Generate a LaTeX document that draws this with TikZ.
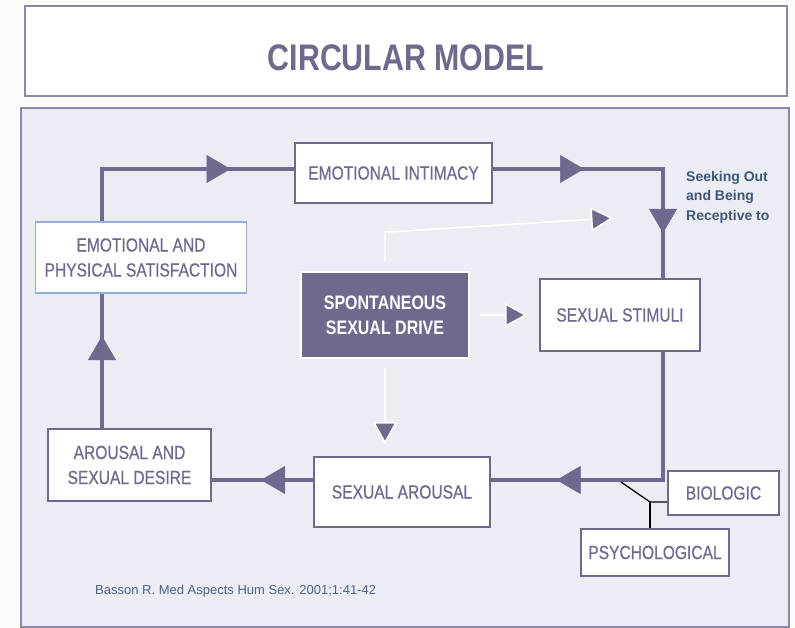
\documentclass[tikz,border=0pt]{standalone}
\usepackage{fontspec}
\setmainfont{Liberation Sans}
\newfontfamily\condfont{Liberation Sans}[FakeStretch=0.82, FakeBold=0.5]
\newfontfamily\titlefont{Liberation Sans}[FakeStretch=0.82]
\usetikzlibrary{positioning, arrows.meta, decorations.markings}

\definecolor{modelpurple}{HTML}{6E6A8E}
\definecolor{panelbg}{HTML}{ECEDF4}
\definecolor{pagebg}{HTML}{FDFCFB}
\definecolor{satblue}{HTML}{98AED6}
\definecolor{seekblue}{HTML}{3C5878}
\definecolor{citeblue}{HTML}{4D6385}

\begin{document}
\begin{tikzpicture}
[x=1pt, y=-1pt, on grid,
 box/.style={draw=modelpurple, line width=2pt, fill=white, text=modelpurple,
             font=\condfont\fontsize{19}{25}\selectfont, align=center, inner sep=0pt},
 loopline/.style={draw=modelpurple, line width=4.5pt},
 looparrow/.style={postaction={decorate, decoration={markings,
             mark=at position #1 with {\arrow{Triangle[length=24pt,width=28pt,line width=0.5pt]}}}}},
 drivearrow/.style={draw=white, line width=1.5pt,
             -{Triangle[length=22pt,width=24pt,fill=modelpurple,line width=1.5pt]}},
 factor/.style={draw=black, line width=1.3pt}]
\fill[pagebg] (0,0) rectangle (795,628);
\useasboundingbox (0,0) rectangle (795,628);

% title and panel
\node[draw=modelpurple!80, line width=2pt, fill=white, minimum width=762pt, minimum height=90pt] (titlebox) at (406,51) {};
\node[text=modelpurple, font=\titlefont\bfseries\fontsize{37}{40}\selectfont] (title) at (406,57.5) {CIRCULAR MODEL};
\draw[fill=panelbg, draw=modelpurple!80, line width=2pt] (21,108) rectangle (789,627);

% boxes of the cycle
\node[box, minimum width=197pt, minimum height=60pt] (intimacy) at (393.5,173) {EMOTIONAL INTIMACY};
\node[box, draw=satblue, line width=1.2pt, minimum width=211pt, minimum height=71pt] (satisf) at (141,257.5) {EMOTIONAL AND\\PHYSICAL SATISFACTION};
\node[box, fill=modelpurple, draw=white, line width=1.5pt, text=white,
      font=\titlefont\bfseries\fontsize{19.5}{24.7}\selectfont,
      minimum width=168pt, minimum height=86pt] (drive) at (385,315) {SPONTANEOUS\\SEXUAL DRIVE};
\node[box, minimum width=160pt, minimum height=71pt, right=235pt of drive] (stimuli) {SEXUAL STIMULI};
\node[box, minimum width=176pt, minimum height=70pt, below=177pt of drive, xshift=17pt] (arousal) {SEXUAL AROUSAL};
\node[box, minimum width=163pt, minimum height=72pt] (desire) at (129.5,465) {AROUSAL AND\\SEXUAL DESIRE};
\node[box, minimum width=111pt, minimum height=44pt] (biologic) at (723.5,493) {BIOLOGIC};
\node[box, minimum width=148pt, minimum height=47pt] (psych) at (655,552.5) {PSYCHOLOGICAL};

\node[anchor=north west, inner sep=0pt, align=left, text=seekblue,
      font=\bfseries\fontsize{14}{19.5}\selectfont] (seek) at (686,171) {Seeking Out\\and Being\\Receptive to};
\node[anchor=base west, inner sep=0pt, text=citeblue, font=\fontsize{13}{15}\selectfont] (cite) at (95,594)
      {Basson R. Med Aspects Hum Sex. 2001;1:41-42};

% the loop
\coordinate (tl) at (102,169);
\coordinate (tr) at (663,169);
\coordinate (br) at (663,480);
\draw[loopline, looparrow=181pt] (satisf.north -| tl) -- (tl) -- (tl -| intimacy.west);
\draw[loopline, looparrow=91pt, looparrow=234pt] (intimacy.east |- tl) -- (tr) -- (tr |- stimuli.north);
\draw[loopline, looparrow=235pt] (tr |- stimuli.south) -- (br) -- (br -| arousal.east);
\draw[loopline, looparrow=52pt] (br -| arousal.west) -- (br -| desire.east);
\draw[loopline, looparrow=92pt] (tl |- desire.north) -- (tl |- satisf.south);

% spontaneous drive
\coordinate (seektip) at (613,218);
\draw[drivearrow, shorten <=9pt] (drive.north) -- ++(0,-39) -- (seektip);
\draw[drivearrow, shorten <=10pt, shorten >=12pt] (drive.east) -- (drive.east -| stimuli.west);
\draw[drivearrow, shorten <=9pt, shorten >=12pt] (drive.south) -- (drive.south |- arousal.north);

% factors
\coordinate (fork) at (621,482);
\coordinate (junc) at (650,502);
\draw[factor] (fork) -- (junc) -- (junc -| biologic.west);
\draw[factor] (junc) -- (junc |- psych.north);
\end{tikzpicture}
\end{document}
